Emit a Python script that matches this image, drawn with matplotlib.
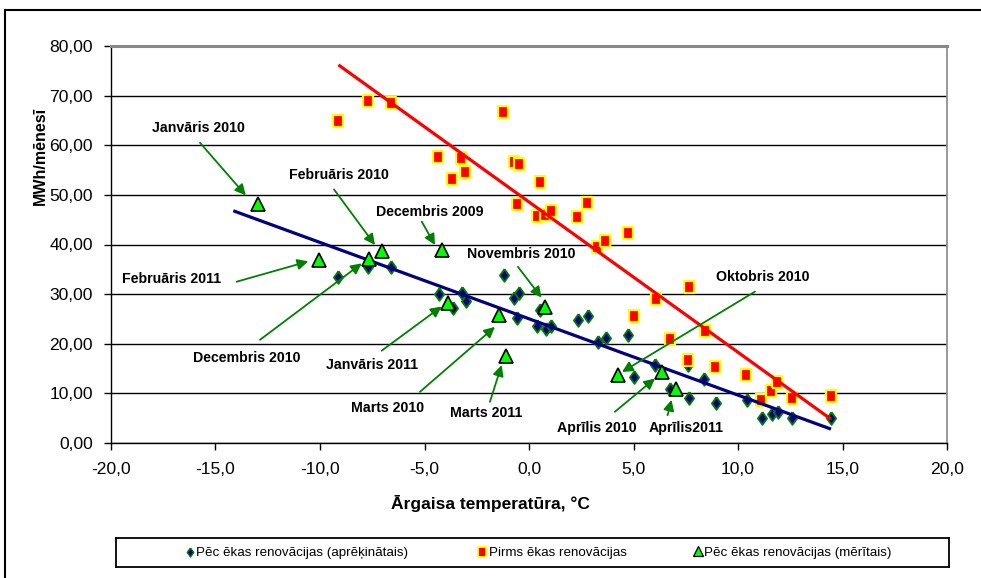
import matplotlib
matplotlib.use('Agg')
import matplotlib.pyplot as plt
from matplotlib.lines import Line2D
import matplotlib.ticker as mt

# ---------------- data ----------------
pre_temp = [-9.14, -7.7, -6.6, -4.35, -3.68, -3.25, -3.06, -1.24, -0.72, -0.48, -0.57,
            0.38, 0.53, 0.77, 1.05, 2.3, 2.78, 3.25, 3.64, 4.74, 5.02, 6.08, 6.75,
            7.6, 7.66, 8.42, 8.9, 10.38, 11.1, 11.58, 11.87, 12.58, 14.45]
pre_energy = [64.9, 69.0, 68.5, 57.7, 53.2, 57.5, 54.6, 66.7, 56.7, 56.3, 48.2,
              45.8, 52.6, 46.0, 46.8, 45.6, 48.4, 39.5, 40.7, 42.3, 25.6, 29.0, 21.0,
              16.7, 31.5, 22.6, 15.3, 13.7, 8.7, 10.5, 12.3, 9.1, 9.5]

calc_temp = [-9.16, -7.72, -6.6, -4.31, -3.65, -3.22, -3.01, -1.18, -0.72, -0.46, -0.59,
             0.37, 0.53, 0.8, 1.04, 2.33, 2.84, 3.29, 3.67, 4.75, 5.0, 6.03, 6.75,
             7.62, 7.67, 8.37, 8.93, 10.41, 11.13, 11.61, 11.9, 12.57, 14.45]
calc_energy = [33.5, 35.4, 35.5, 30.0, 27.3, 30.2, 28.6, 33.9, 29.2, 30.3, 25.1,
               23.5, 26.8, 23.0, 23.6, 24.8, 25.5, 20.4, 21.1, 21.8, 13.2, 15.7, 10.8,
               15.7, 9.0, 12.9, 8.0, 8.7, 5.0, 5.8, 6.3, 5.0, 5.1]

meas_months = ['Janvāris 2010', 'Februāris 2011', 'Februāris 2010', 'Decembris 2010',
               'Decembris 2009', 'Janvāris 2011', 'Novembris 2010', 'Marts 2010',
               'Marts 2011', 'Oktobris 2010', 'Aprīlis 2010', 'Aprīlis2011']
meas_temp = [-12.97, -10.05, -7.05, -7.66, -4.18, -3.86, 0.77, -1.44, -1.12, 4.27, 6.35, 7.03]
meas_energy = [48.1, 36.9, 38.7, 37.1, 38.8, 28.2, 27.4, 25.7, 17.6, 13.7, 14.3, 10.9]

pre_trend_x = [-9.12, 14.45]
pre_trend_y = [76.2, 4.8]
post_trend_x = [-14.15, 14.45]
post_trend_y = [46.8, 2.8]

series_names = ['Pēc ēkas renovācijas (aprēķinātais)', 'Pirms ēkas renovācijas',
                'Pēc ēkas renovācijas (mērītais)']
x_title = 'Ārgaisa temperatūra, °C'
y_title = 'MWh/mēnesī'

# annotation layout: label, text pos, arrow start, arrow tip (data coords)
annotations = [
    ('Janvāris 2010', (-15.84, 63.5), (-15.74, 60.5), (-13.55, 49.9)),
    ('Februāris 2010', (-9.09, 54.0), (-9.33, 51.1), (-7.37, 39.9)),
    ('Decembris 2009', (-4.74, 46.6), (-5.13, 44.6), (-4.5, 39.9)),
    ('Novembris 2010', (-0.38, 38.1), (-0.53, 35.5), (0.6, 29.3)),
    ('Oktobris 2010', (11.2, 33.5), (10.81, 30.5), (4.45, 14.3)),
    ('Februāris 2011', (-17.08, 33.1), (-13.99, 32.5), (-10.56, 36.6)),
    ('Decembris 2010', (-13.51, 17.1), (-12.87, 20.8), (-8.0, 36.2)),
    ('Janvāris 2011', (-7.53, 15.7), (-7.05, 18.6), (-4.18, 27.5)),
    ('Marts 2010', (-6.78, 7.0), (-5.22, 10.3), (-1.63, 23.4)),
    ('Marts 2011', (-2.06, 6.0), (-1.87, 8.3), (-1.31, 15.7)),
    ('Aprīlis 2010', (3.24, 3.0), (4.11, 6.3), (6.03, 13.0)),
    ('Aprīlis2011', (7.54, 3.0), (6.63, 5.6), (6.82, 8.7)),
]

FONT = ['Liberation Sans', 'DejaVu Sans']
plt.rcParams['font.family'] = FONT

W, H = 981, 578
fig = plt.figure(figsize=(W / 100, H / 100), dpi=100)


def fx(px):
    return px / W


def fy(py):
    return 1 - py / H


ax = fig.add_axes([fx(111), fy(443), fx(947) - fx(111), fy(46) - fy(443)])
ax.set_xlim(-20, 20)
ax.set_ylim(0, 80)
ax.set_xticks(range(-20, 21, 5))
ax.set_yticks(range(0, 81, 10))
ax.xaxis.set_major_formatter(mt.FuncFormatter(lambda v, p: f'{v:.1f}'.replace('.', ',')))
ax.yaxis.set_major_formatter(mt.FuncFormatter(lambda v, p: f'{v:.2f}'.replace('.', ',')))
ax.yaxis.grid(True, color='black', lw=1.0, zorder=0)
ax.set_axisbelow(True)
for s in ['left', 'bottom']:
    ax.spines[s].set_color('black')
    ax.spines[s].set_linewidth(1.0)
ax.spines['top'].set_color('#888888')
ax.spines['top'].set_linewidth(2.2)
ax.spines['right'].set_color('#888888')
ax.spines['right'].set_linewidth(1.2)
ax.tick_params(axis='y', direction='out', length=5, pad=8, width=1, labelsize=12.6)
ax.tick_params(axis='x', direction='out', length=5, pad=9, width=1, labelsize=12.6)

ax.set_xlabel(x_title, fontweight='bold', fontsize=12.5, va='center')
ax.xaxis.set_label_coords((490 - 111) / 836, (443 - 503) / 397)
ax.set_ylabel(y_title, fontweight='bold', fontsize=11.5, va='center')
ax.yaxis.set_label_coords((40 - 111) / 836, (443 - 156) / 397)

rect_marker = [(-0.75, -1), (0.75, -1), (0.75, 1), (-0.75, 1), (-0.75, -1)]
diam_marker = [(0, 1), (0.72, 0), (0, -1), (-0.72, 0), (0, 1)]

# markers
ax.plot(calc_temp, calc_energy, ls='none', marker=diam_marker, ms=9.2, mfc='#000080',
        mec='#008000', mew=1.3, zorder=3)
ax.plot(pre_temp, pre_energy, ls='none', marker=rect_marker, ms=9.0, mfc='#FF0000',
        mec='#FFFF00', mew=1.6, zorder=3)
ax.plot(pre_trend_x, pre_trend_y, color='#FF0000', lw=2.3, zorder=4, solid_capstyle='butt')
ax.plot(post_trend_x, post_trend_y, color='#000080', lw=2.3, zorder=4, solid_capstyle='butt')
ax.plot(meas_temp, meas_energy, ls='none', marker='^', ms=10, mfc='#00FF00',
        mec='black', mew=1.2, zorder=5)

for label, tpos, start, tip in annotations:
    ax.text(tpos[0], tpos[1], label, fontweight='bold', fontsize=10.2,
            ha='center', va='center', zorder=6)
    ax.annotate('', xy=tip, xytext=start,
                arrowprops=dict(arrowstyle='-|>', color='#008000', lw=1.3,
                                mutation_scale=16, shrinkA=0, shrinkB=0), zorder=6)

# legend box
lax = fig.add_axes([fx(116), fy(567), fx(949) - fx(116), fy(538) - fy(567)])
lax.set_xlim(116, 949)
lax.set_ylim(567, 538)
lax.set_xticks([])
lax.set_yticks([])
for s in lax.spines.values():
    s.set_color('black')
    s.set_linewidth(1.3)
lax.plot([190], [552], marker=diam_marker, ms=6.5, mfc='#000080', mec='#008000', mew=1.0, ls='none')
lax.plot([482], [552], marker=rect_marker, ms=7, mfc='#FF0000', mec='#FFFF00', mew=1.3, ls='none')
lax.plot([698], [551], marker='^', ms=6.5, mfc='#00FF00', mec='black', mew=0.9, ls='none')
for x0, name in zip([196, 489, 704], series_names):
    lax.text(x0, 553, name, fontsize=9.6, va='center', ha='left')

# outer chart frame
fig.add_artist(Line2D([fx(5), fx(5)], [fy(10), 0], color='black', lw=1.5))
fig.add_artist(Line2D([fx(5), 1], [fy(10), fy(10)], color='black', lw=1.5))

fig.savefig('out.png', dpi=100)
